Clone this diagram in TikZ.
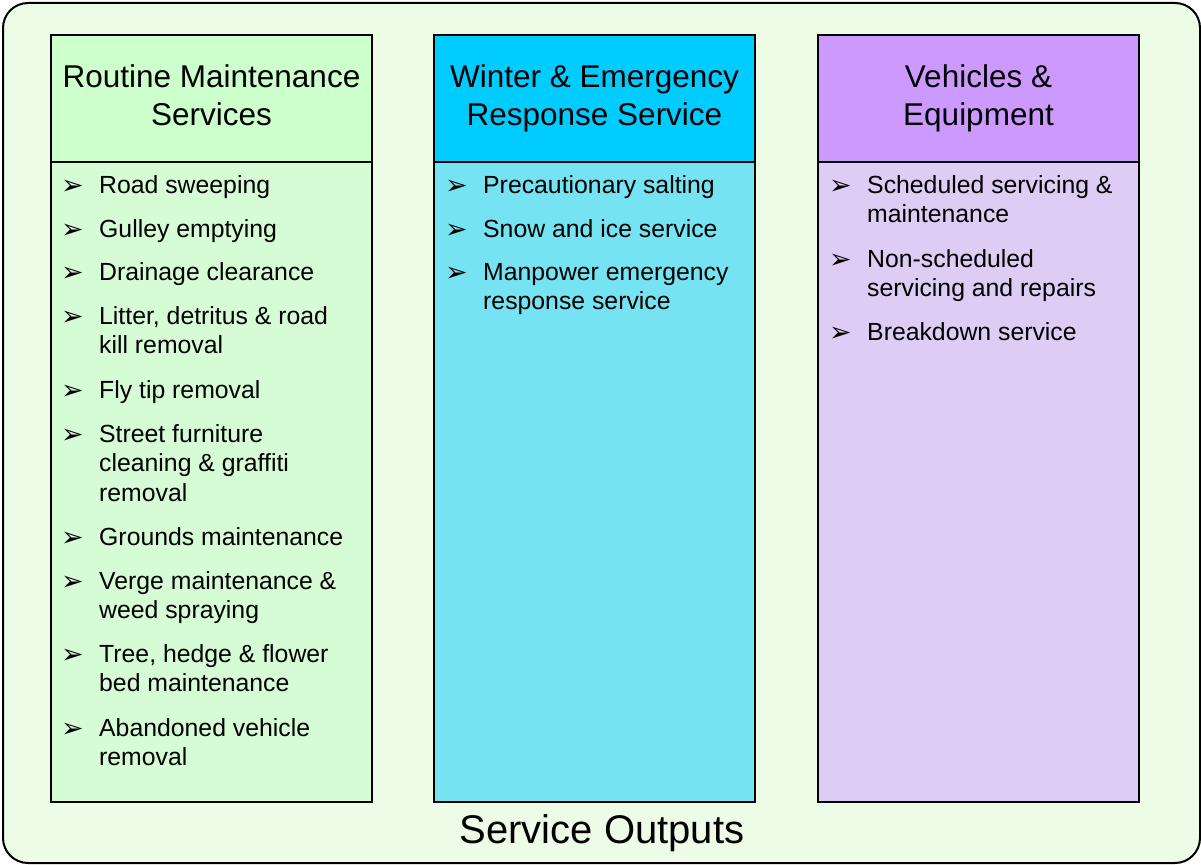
\documentclass[tikz,border=0pt]{standalone}
\usepackage{fontspec}
\setmainfont{Liberation Sans}
\newfontfamily\symfont{DejaVu Sans}
\definecolor{panelbg}{RGB}{237,252,231}
\definecolor{greenhead}{RGB}{204,255,204}
\definecolor{greenbody}{RGB}{214,252,213}
\definecolor{bluehead}{RGB}{0,204,255}
\definecolor{bluebody}{RGB}{117,227,242}
\definecolor{violethead}{RGB}{204,153,255}
\definecolor{violetbody}{RGB}{221,204,243}
\newcommand{\bulletmark}{\raisebox{-1pt}{\symfont\fontsize{27}{27}\selectfont ➢}}
\begin{document}
\begin{tikzpicture}[x=1pt,y=-1pt,
  frame/.style={draw=black,line width=2pt},
  headbox/.style={frame,minimum width=321pt,minimum height=127pt,anchor=north west,inner sep=0pt,
    align=center,font=\fontsize{31.5}{38}\selectfont},
  bodybox/.style={frame,minimum width=321pt,minimum height=640pt,anchor=north west,inner sep=0pt},
  item/.style={anchor=base west,inner sep=0pt,font=\fontsize{24.8}{29.5}\selectfont}]
\useasboundingbox (0,0) rectangle (1201,864);
% outer panel
\node[draw=black,line width=2pt,rounded corners=25pt,fill=panelbg,minimum width=1197pt,minimum height=860pt,
  anchor=north west,inner sep=0pt] (panel) at (2,2) {};
\node[font=\fontsize{40}{48}\selectfont,anchor=base] (title) at (602,843) {Service Outputs};

% column 1
\node[bodybox,fill=greenbody] (b1) at (50,161) {};
\node[headbox,fill=greenhead] (h1) at (50,34) {\strut Routine Maintenance\\\strut Services};
% column 2
\node[bodybox,fill=bluebody] (b2) at (433,161) {};
\node[headbox,fill=bluehead] (h2) at (433,34) {\strut Winter \& Emergency\\\strut Response Service};
% column 3
\node[bodybox,fill=violetbody] (b3) at (817,161) {};
\node[headbox,fill=violethead] (h3) at (817,34) {\strut Vehicles \&\\\strut Equipment};

\newcommand{\entry}[3]{%
  \node[item] (#1) at (#2) {\makebox[38pt][l]{\bulletmark}\parbox[t]{270pt}{#3}};}

% routine maintenance items
\entry{r1}{61,193}{Road sweeping}
\entry{r2}{61,237}{Gulley emptying}
\entry{r3}{61,280}{Drainage clearance}
\entry{r4}{61,324}{Litter, detritus \& road\\kill removal}
\entry{r5}{61,398}{Fly tip removal}
\entry{r6}{61,442}{Street furniture\\cleaning \& graffiti\\removal}
\entry{r7}{61,545}{Grounds maintenance}
\entry{r8}{61,589}{Verge maintenance \&\\weed spraying}
\entry{r9}{61,662}{Tree, hedge \& flower\\bed maintenance}
\entry{r10}{61,736}{Abandoned vehicle\\removal}

% winter and emergency items
\entry{w1}{445,193}{Precautionary salting}
\entry{w2}{445,237}{Snow and ice service}
\entry{w3}{445,280}{Manpower emergency\\response service}

% vehicles and equipment items
\entry{v1}{829,193}{Scheduled servicing \&\\maintenance}
\entry{v2}{829,267}{Non-scheduled\\servicing and repairs}
\entry{v3}{829,340}{Breakdown service}
\end{tikzpicture}
\end{document}
